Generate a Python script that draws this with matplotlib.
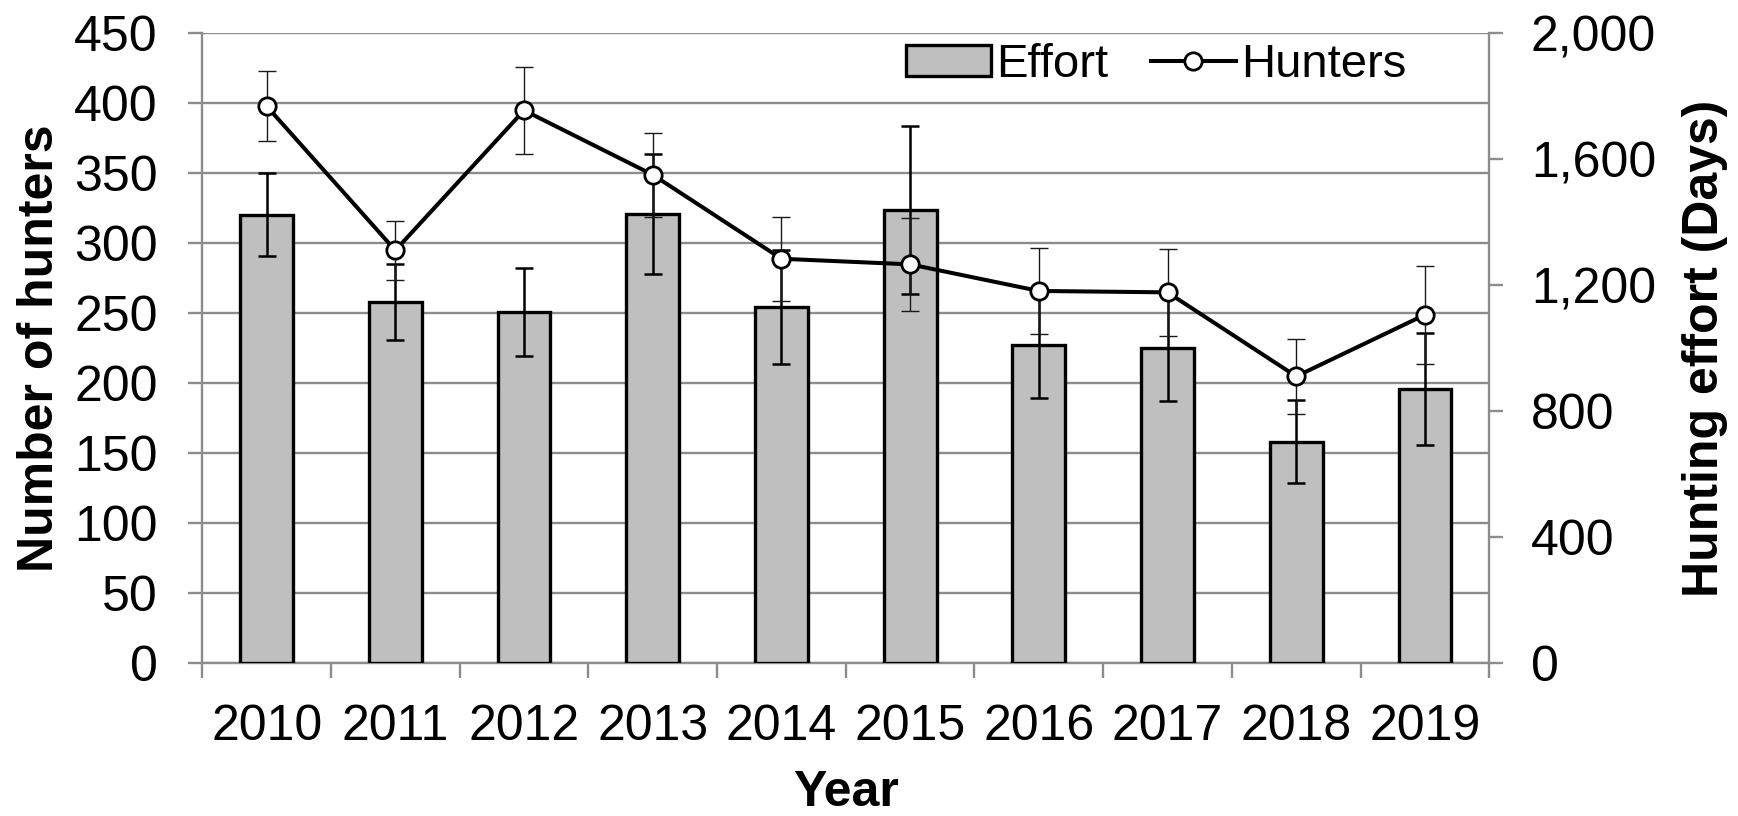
import matplotlib
matplotlib.use("Agg")
import matplotlib.pyplot as plt
import numpy as np
from matplotlib.ticker import FuncFormatter
from matplotlib.patches import Patch
from matplotlib.lines import Line2D

plt.rcParams['font.family'] = ['Liberation Sans', 'DejaVu Sans']

# Annual survey figures
years = ['2010', '2011', '2012', '2013', '2014', '2015', '2016', '2017', '2018', '2019']
hunters = [398, 295, 395, 349, 289, 285, 266, 265, 205, 249]
hunters_err = [25, 21, 31, 30, 30, 33, 31, 31, 27, 35]
effort_days = [1424, 1147, 1116, 1426, 1131, 1440, 1011, 1002, 704, 871]
effort_err = [132, 120, 140, 191, 182, 266, 169, 169, 132, 178]

GRID = '#8c8c8c'
FS = 36
FS_LEG = 34
FS_LAB = 36

fig = plt.figure(figsize=(17.38, 8.16), dpi=100)
ax = fig.add_axes([0.1164, 0.1871, 0.7405, 0.772])
x = np.arange(len(years))

# Left axis: number of hunters (carries the grid)
ax.set_xlim(-0.5, len(years) - 0.5)
ax.set_ylim(0, 450)
ax.set_yticks(np.arange(0, 451, 50))
ax.yaxis.grid(True, color=GRID, lw=1.7)
ax.set_axisbelow(True)
for s in ['top', 'right']:
    ax.spines[s].set_visible(False)
for s in ['left', 'bottom']:
    ax.spines[s].set_color(GRID)
    ax.spines[s].set_linewidth(1.7)
ax.tick_params(axis='y', direction='out', length=10, width=1.7, color=GRID,
               labelsize=FS, pad=22)
ax.set_xticks(x)
ax.set_xticklabels(years)
ax.set_xticks(np.arange(-0.5, len(years), 1), minor=True)
ax.tick_params(axis='x', which='major', length=0, labelsize=FS, pad=29.5)
ax.tick_params(axis='x', which='minor', direction='out', length=11, width=1.7, color=GRID)
ax.set_ylabel('Number of hunters', fontsize=FS_LAB, fontweight='bold')
ax.yaxis.set_label_coords(-0.1086, 0.5)
ax.set_xlabel('Year', fontsize=FS_LAB, fontweight='bold')
ax.xaxis.set_label_coords(0.5, -0.1694)

# Right axis: hunting effort in days (bars)
axb = ax.twinx()
axb.set_ylim(0, 2000)
axb.set_yticks(np.arange(0, 2001, 400))
axb.yaxis.set_major_formatter(FuncFormatter(lambda v, p: f'{int(v):,}'))
for s in ['top', 'left', 'bottom']:
    axb.spines[s].set_visible(False)
axb.spines['right'].set_color(GRID)
axb.spines['right'].set_linewidth(1.7)
axb.tick_params(axis='y', direction='out', length=10, width=1.7, color=GRID,
                labelsize=FS, pad=20)
axb.bar(x, effort_days, width=0.41, color='#bfbfbf', edgecolor='black', linewidth=2.4,
        yerr=effort_err,
        error_kw=dict(ecolor='black', elinewidth=1.8, capsize=6.5, capthick=1.8))
axb.set_ylabel('Hunting effort (Days)', fontsize=FS_LAB, fontweight='bold')
axb.yaxis.set_label_coords(1.1497, 0.5)

# Hunters line on top, on the same scale as the left axis
axl = ax.twinx()
axl.set_ylim(ax.get_ylim())
axl.axis('off')
axl.errorbar(x, hunters, yerr=hunters_err, fmt='none', ecolor='#1a1a1a',
             elinewidth=1.0, capsize=6.5, capthick=1.0)
axl.plot(x, hunters, '-o', color='black', lw=2.9, ms=12.5, mfc='white', mec='black', mew=2)

handles = [Patch(facecolor='#bfbfbf', edgecolor='black', linewidth=2.4),
           Line2D([], [], color='black', lw=2.9, marker='o', ms=12.5,
                  mfc='white', mec='black', mew=2)]
axl.legend(handles, ['Effort', 'Hunters'], loc='center', bbox_to_anchor=(0.7414, 0.9497),
           ncol=2, frameon=False, fontsize=FS_LEG, handlelength=1.79, handleheight=0.62,
           handletextpad=0.12, columnspacing=0.9, borderpad=0, borderaxespad=0)

fig.savefig('out.png', dpi=100)
